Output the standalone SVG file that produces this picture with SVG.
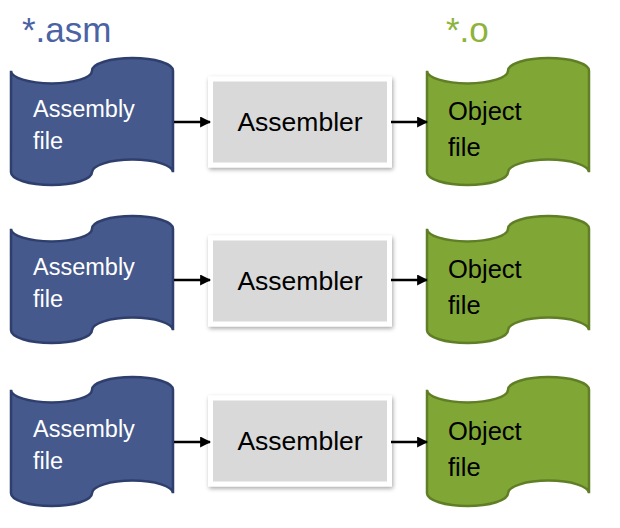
<svg xmlns="http://www.w3.org/2000/svg" width="620" height="528" viewBox="0 0 620 528">
<defs>
<style>
.src{fill:#45598c;stroke:#2f3f6d;stroke-width:2.5}
.dst{fill:#80a736;stroke:#5f7e25;stroke-width:2.5}
.box{fill:#d9d9d9;stroke:#ffffff;stroke-width:5;filter:url(#sh)}
.t{font-family:"Liberation Sans",Arial,sans-serif}
.wt{fill:#ffffff;font-size:23.5px}
.bt{fill:#000000;font-size:25.5px}
.at{fill:#000000;font-size:26.5px}
.conn line{stroke:#000;stroke-width:2.5;marker-end:url(#ah)}
</style>
<filter id="sh" x="-10%" y="-10%" width="125%" height="130%">
<feDropShadow dx="1" dy="2" stdDeviation="2" flood-color="#000" flood-opacity="0.35"/>
</filter>
<marker id="ah" viewBox="0 0 10 10" refX="9" refY="5" markerWidth="4.4" markerHeight="4.4" orient="auto" markerUnits="strokeWidth">
<path d="M0,0 L10,5 L0,10 Z" fill="#000"/>
</marker>
</defs>
<rect width="620" height="528" fill="#ffffff"/>
<text class="t" x="22" y="42" font-size="35" fill="#4a63a3">*.asm</text>
<text class="t" x="446" y="42" font-size="35" fill="#8db33a">*.o</text>

<g id="asm1"><path class="src" d="M11,70.7 A40.5,12.7 0 0 0 92,70.7 A40.5,12.7 0 0 1 173,70.7 L173,172.3 A40.5,12.7 0 0 0 92,172.3 A40.5,12.7 0 0 1 11,172.3 Z"/>
<text class="t wt" x="33" y="117">Assembly</text><text class="t wt" x="33" y="149">file</text></g>
<g id="assembler1"><rect class="box" x="210.5" y="79" width="179" height="86"/><text class="t at" x="300" y="131" text-anchor="middle">Assembler</text></g>
<g id="obj1"><path class="dst" d="M427,70.7 A40.5,12.7 0 0 0 508,70.7 A40.5,12.7 0 0 1 589,70.7 L589,172.3 A40.5,12.7 0 0 0 508,172.3 A40.5,12.7 0 0 1 427,172.3 Z"/>
<text class="t bt" x="448" y="120">Object</text><text class="t bt" x="448" y="156">file</text></g>

<g id="asm2"><path class="src" d="M11,228.7 A40.5,12.7 0 0 0 92,228.7 A40.5,12.7 0 0 1 173,228.7 L173,330.3 A40.5,12.7 0 0 0 92,330.3 A40.5,12.7 0 0 1 11,330.3 Z"/>
<text class="t wt" x="33" y="275">Assembly</text><text class="t wt" x="33" y="307">file</text></g>
<g id="assembler2"><rect class="box" x="210.5" y="238" width="179" height="86"/><text class="t at" x="300" y="290" text-anchor="middle">Assembler</text></g>
<g id="obj2"><path class="dst" d="M427,228.7 A40.5,12.7 0 0 0 508,228.7 A40.5,12.7 0 0 1 589,228.7 L589,330.3 A40.5,12.7 0 0 0 508,330.3 A40.5,12.7 0 0 1 427,330.3 Z"/>
<text class="t bt" x="448" y="278">Object</text><text class="t bt" x="448" y="314">file</text></g>

<g id="asm3"><path class="src" d="M11,389.7 A40.5,12.7 0 0 0 92,389.7 A40.5,12.7 0 0 1 173,389.7 L173,493.3 A40.5,12.7 0 0 0 92,493.3 A40.5,12.7 0 0 1 11,493.3 Z"/>
<text class="t wt" x="33" y="437">Assembly</text><text class="t wt" x="33" y="469">file</text></g>
<g id="assembler3"><rect class="box" x="210.5" y="398" width="179" height="86"/><text class="t at" x="300" y="450" text-anchor="middle">Assembler</text></g>
<g id="obj3"><path class="dst" d="M427,389.7 A40.5,12.7 0 0 0 508,389.7 A40.5,12.7 0 0 1 589,389.7 L589,493.3 A40.5,12.7 0 0 0 508,493.3 A40.5,12.7 0 0 1 427,493.3 Z"/>
<text class="t bt" x="448" y="440">Object</text><text class="t bt" x="448" y="476">file</text></g>

<g id="connectors" class="conn">
<line x1="174" y1="122" x2="210" y2="122"/>
<line x1="391" y1="122" x2="427" y2="122"/>
<line x1="174" y1="280" x2="210" y2="280"/>
<line x1="391" y1="280" x2="427" y2="280"/>
<line x1="174" y1="442" x2="210" y2="442"/>
<line x1="391" y1="442" x2="427" y2="442"/>
</g>
</svg>
